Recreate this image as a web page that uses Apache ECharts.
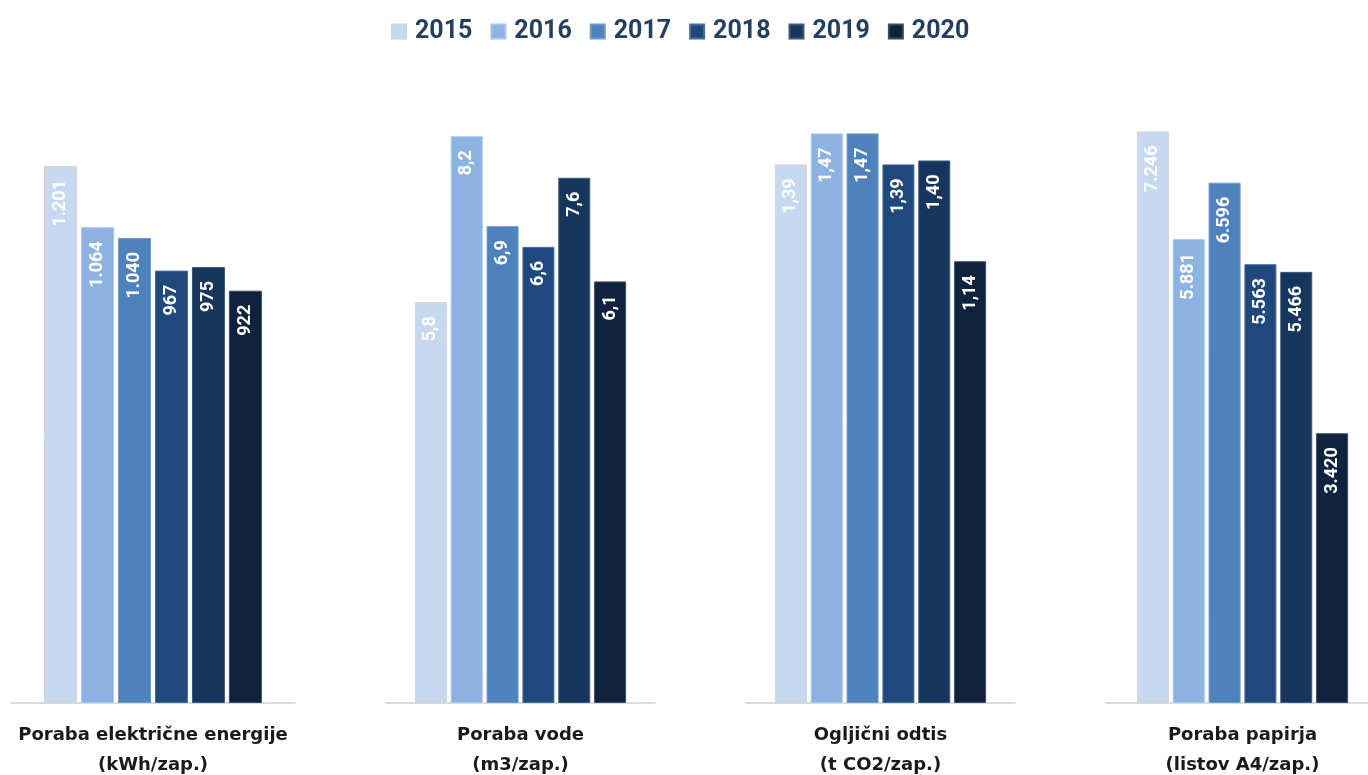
<!DOCTYPE html>
<html>
<head>
<meta charset="utf-8">
<script src="https://cdn.jsdelivr.net/npm/echarts@6/dist/echarts.min.js"></script>
<style>
  html, body { margin: 0; padding: 0; background: #ffffff; }
  #chart { width: 1368px; height: 775px; }
</style>
</head>
<body>
<div id="chart"></div>
<script>
// ---- data ----
const years = ['2015', '2016', '2017', '2018', '2019', '2020'];
const groupLabels = [
  'Poraba električne energije\n(kWh/zap.)',
  'Poraba vode\n(m3/zap.)',
  'Ogljični odtis\n(t CO2/zap.)',
  'Poraba papirja\n(listov A4/zap.)'
];
const electricity = [1201, 1064, 1040, 967, 975, 922];
const water = [5.8, 8.2, 6.9, 6.6, 7.6, 6.1];
const co2 = [1.39, 1.47, 1.47, 1.39, 1.40, 1.14];
const paper = [7246, 5881, 6596, 5563, 5466, 3420];
const axisMax = [1400, 9, 1.6, 8000];

// ---- styling ----
const colors = ['#c6d9f0', '#8db3e2', '#4f81bd', '#1f497d', '#17365d', '#10233e'];
const borders = ['#d4d4d4', '#a9c4ea', '#6f98cb', '#4a6c98', '#3f5878', '#3c4a60'];
const labelFont = 'Roboto, "DejaVu Sans", sans-serif';

const thousands = v => String(v).replace(/\B(?=(\d{3})+(?!\d))/g, '.');
const decimal = d => v => v.toFixed(d).replace('.', ',');
const formatters = [thousands, decimal(1), decimal(2), thousands];
const seriesValues = [electricity, water, co2, paper];

const grids = [
  { left: 11, width: 284, top: 77, bottom: 72, containLabel: false, outerBoundsMode: 'none' },
  { left: 386, width: 269, top: 81, bottom: 72, containLabel: false, outerBoundsMode: 'none' },
  { left: 746, width: 269, top: 83, bottom: 72, containLabel: false, outerBoundsMode: 'none' },
  { left: 1106, width: 273, top: 72, bottom: 72, containLabel: false, outerBoundsMode: 'none' }
];
const barWidths = [33, 32, 32, 32];

const xAxes = groupLabels.map((lab, g) => ({
  type: 'category',
  gridIndex: g,
  data: [lab],
  axisTick: { show: false },
  axisLine: { show: true, lineStyle: { color: '#d0d0d0', width: 1.5 } },
  axisLabel: {
    margin: 17,
    color: '#1a1a1a',
    fontFamily: '"DejaVu Sans", sans-serif',
    fontWeight: 'bold',
    fontSize: 18,
    lineHeight: 30
  }
}));
const yAxes = axisMax.map((m, g) => ({
  type: 'value', gridIndex: g, min: 0, max: m, show: false,
  splitLine: { show: false }
}));

const series = [];
seriesValues.forEach((vals, g) => {
  vals.forEach((v, i) => {
    series.push({
      type: 'bar',
      name: years[i],
      xAxisIndex: g,
      yAxisIndex: g,
      data: [v],
      barWidth: barWidths[g],
      barGap: '12%',
      itemStyle: { color: colors[i], borderColor: borders[i], borderWidth: 1 },
      label: {
        show: true,
        position: 'insideTop',
        distance: 14,
        rotate: 90,
        align: 'right',
        verticalAlign: 'middle',
        color: '#ffffff',
        fontFamily: labelFont,
        fontWeight: 'bold',
        fontSize: 18,
        formatter: p => formatters[g](p.value)
      }
    });
  });
});

const chart = echarts.init(document.getElementById('chart'));
chart.setOption({
  animation: false,
  backgroundColor: '#ffffff',
  legend: {
    data: years,
    left: 386,
    top: 14,
    icon: 'rect',
    itemWidth: 14,
    itemHeight: 14,
    itemGap: 18,
    textStyle: {
      color: '#24405f',
      fontFamily: labelFont,
      fontWeight: 'bold',
      fontSize: 25,
      padding: [0, 0, 0, 4]
    }
  },
  grid: grids,
  xAxis: xAxes,
  yAxis: yAxes,
  series: series
});
</script>
</body>
</html>
